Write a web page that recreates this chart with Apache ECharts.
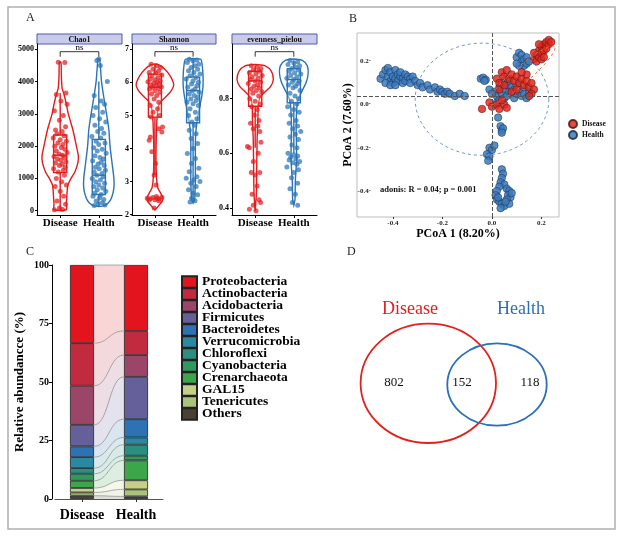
<!DOCTYPE html>
<html><head><meta charset="utf-8">
<script src="https://cdn.jsdelivr.net/npm/echarts@6/dist/echarts.min.js"></script>
<style>html,body{margin:0;padding:0;background:#fff}#c{width:625px;height:537px}</style>
</head><body><div id="c"></div>
<script>
// ---------------- DATA ----------------
const groups = ['Disease', 'Health'];
const alphaMetrics = ['Chao1', 'Shannon', 'evenness_pielou'];

// violin outlines: [value, half width in x units]
const chaoDiseaseViolin = [[4600,0.02],[4200,0.03],[3800,0.05],[3600,0.1],[3300,0.16],[3000,0.21],[2500,0.33],[2000,0.42],[1700,0.47],[1500,0.46],[1200,0.38],[1000,0.28],[800,0.2],[600,0.18],[400,0.17],[200,0.16],[30,0.16]];
const chaoHealthViolin = [[4700,0.02],[4300,0.05],[4000,0.07],[3500,0.13],[3000,0.2],[2500,0.26],[2000,0.29],[1500,0.34],[1000,0.39],[700,0.39],[400,0.33],[250,0.25],[150,0.12],[130,0]];
const shanDiseaseViolin = [[6.56,0],[6.52,0.12],[6.4,0.26],[6.2,0.4],[6.0,0.48],[5.9,0.49],[5.75,0.43],[5.6,0.32],[5.45,0.18],[5.3,0.1],[5.0,0.06],[4.5,0.04],[4.0,0.03],[3.5,0.03],[3.0,0.05],[2.8,0.08],[2.65,0.15],[2.5,0.21],[2.4,0.19],[2.3,0.12],[2.2,0.05],[2.15,0]];
const shanHealthViolin = [[6.72,0],[6.7,0.2],[6.5,0.24],[6.2,0.26],[5.9,0.26],[5.6,0.23],[5.3,0.18],[5.0,0.13],[4.6,0.08],[4.2,0.06],[3.8,0.06],[3.3,0.06],[3.0,0.06],[2.7,0.05],[2.45,0.04],[2.35,0]];
const evenDiseaseViolin = [[0.925,0],[0.92,0.26],[0.9,0.42],[0.87,0.47],[0.845,0.4],[0.825,0.26],[0.805,0.13],[0.78,0.08],[0.72,0.07],[0.65,0.05],[0.55,0.04],[0.45,0.03],[0.39,0]];
const evenHealthViolin = [[0.945,0],[0.94,0.22],[0.92,0.35],[0.89,0.37],[0.86,0.32],[0.83,0.22],[0.8,0.12],[0.77,0.08],[0.7,0.06],[0.62,0.07],[0.57,0.07],[0.5,0.04],[0.43,0.03],[0.41,0]];

// box stats: [min, Q1, median, Q3, max]
const chaoDiseaseBox = [30, 1180, 1720, 2345, 3650];
const chaoHealthBox = [150, 500, 1100, 2210, 4000];
const shanDiseaseBox = [3.2, 4.95, 5.85, 6.25, 6.56];
const shanHealthBox = [2.4, 4.78, 5.75, 6.16, 6.7];
const evenDiseaseBox = [0.62, 0.772, 0.865, 0.9, 0.92];
const evenHealthBox = [0.6, 0.785, 0.87, 0.91, 0.94];

// jittered samples: [jitter, value]
const chaoDiseasePts = [[-0.05,4600],[0.12,4590],[0.15,3650],[-0.1,3600],[0.02,3400],[0.18,3300],[-0.15,3100],[0.08,2950],[-0.02,2800],[0.14,2600],[-0.12,2500],[0.05,2450],[-0.08,2380],[0.1,2320],[-0.18,2250],[0.0,2200],[0.16,2150],[-0.06,2100],[0.07,2050],[-0.14,2000],[0.03,1960],[0.12,1900],[-0.1,1850],[0.18,1800],[-0.03,1760],[0.06,1720],[-0.16,1680],[0.1,1650],[-0.07,1600],[0.02,1560],[0.15,1520],[-0.12,1480],[0.05,1440],[-0.02,1400],[0.13,1350],[-0.17,1300],[0.08,1250],[-0.05,1200],[0.11,1100],[-0.1,1000],[0.04,900],[0.16,800],[-0.13,750],[0.0,600],[0.09,450],[-0.08,300],[0.14,200],[-0.02,80],[0.06,40],[-0.15,30]];
const chaoHealthPts = [[0.0,4700],[-0.05,4650],[0.04,4500],[0.22,4000],[-0.12,3570],[0.06,3400],[0.15,3300],[-0.08,3200],[0.1,3050],[-0.15,2950],[0.02,2850],[0.18,2750],[-0.1,2650],[0.07,2550],[-0.03,2450],[0.13,2400],[-0.18,2300],[0.05,2250],[-0.07,2150],[0.16,2100],[0.0,2050],[-0.13,1950],[0.09,1900],[-0.04,1850],[0.19,1780],[-0.1,1700],[0.03,1650],[0.12,1600],[-0.16,1550],[0.06,1500],[-0.02,1450],[0.14,1400],[-0.09,1350],[0.01,1300],[0.17,1250],[-0.12,1200],[0.08,1150],[-0.05,1100],[0.11,1050],[-0.17,1000],[0.04,950],[-0.08,900],[0.15,850],[0.0,800],[-0.13,750],[0.1,700],[-0.04,650],[0.18,600],[-0.1,550],[0.06,500],[-0.15,450],[0.02,400],[0.13,350],[-0.07,300],[0.09,250],[-0.02,200],[0.16,180],[-0.12,160]];
const shanDiseasePts = [[-0.1,6.55],[0.05,6.5],[0.15,6.45],[-0.05,6.4],[0.1,6.35],[-0.15,6.3],[0.02,6.28],[0.18,6.22],[-0.08,6.2],[0.08,6.15],[-0.12,6.1],[0.0,6.08],[0.14,6.05],[-0.18,6.02],[0.06,6.0],[-0.03,5.97],[0.11,5.95],[-0.1,5.92],[0.03,5.9],[0.17,5.87],[-0.06,5.85],[0.09,5.82],[-0.14,5.8],[0.0,5.75],[0.13,5.7],[-0.09,5.65],[0.05,5.6],[-0.02,5.5],[0.1,5.4],[-0.12,5.3],[0.07,5.2],[-0.05,5.1],[0.12,5.0],[-0.1,4.95],[0.2,4.65],[0.18,4.5],[-0.12,4.35],[-0.15,4.25],[0.1,4.6],[-0.08,3.9],[0.02,3.55],[-0.02,3.2],[0.03,2.9],[-0.2,2.5],[-0.12,2.48],[-0.05,2.52],[0.0,2.45],[0.06,2.5],[0.12,2.47],[0.18,2.53],[0.1,2.42],[-0.15,2.44],[0.04,2.55],[-0.02,2.2]];
const shanHealthPts = [[-0.1,6.7],[0.1,6.68],[0.0,6.65],[-0.15,6.6],[0.15,6.55],[0.05,6.5],[-0.05,6.45],[0.12,6.4],[-0.12,6.35],[0.02,6.3],[0.18,6.25],[-0.08,6.2],[0.08,6.15],[-0.18,6.1],[0.0,6.05],[0.14,6.0],[-0.04,5.95],[0.1,5.9],[-0.14,5.85],[0.05,5.8],[-0.02,5.75],[0.16,5.7],[-0.1,5.65],[0.03,5.6],[0.12,5.55],[-0.06,5.5],[0.08,5.45],[-0.16,5.4],[0.0,5.35],[0.14,5.3],[-0.08,5.2],[0.06,5.1],[-0.12,5.0],[0.1,4.9],[-0.03,4.8],[0.04,4.7],[-0.1,4.55],[0.08,4.45],[-0.05,4.3],[0.12,4.15],[0.0,4.0],[-0.15,3.85],[0.06,3.7],[-0.04,3.55],[0.15,3.4],[-0.1,3.3],[0.1,3.15],[-0.18,3.1],[0.02,3.05],[0.18,3.0],[-0.06,2.95],[0.08,2.85],[-0.12,2.75],[0.0,2.65],[0.12,2.6],[-0.04,2.5],[0.05,2.42],[-0.08,2.38]];
const evenDiseasePts = [[-0.1,0.92],[0.05,0.915],[0.15,0.91],[-0.05,0.905],[0.1,0.9],[-0.15,0.895],[0.02,0.89],[0.18,0.885],[-0.08,0.88],[0.08,0.875],[-0.12,0.87],[0.0,0.865],[0.14,0.86],[-0.18,0.855],[0.06,0.85],[-0.03,0.845],[0.11,0.84],[-0.1,0.835],[0.03,0.83],[0.17,0.825],[-0.06,0.82],[0.09,0.81],[-0.14,0.8],[0.0,0.79],[0.13,0.78],[-0.09,0.77],[0.05,0.76],[-0.02,0.74],[0.1,0.72],[-0.12,0.71],[0.07,0.70],[-0.05,0.69],[0.12,0.68],[0.15,0.64],[-0.2,0.625],[-0.15,0.62],[0.08,0.6],[-0.05,0.57],[0.0,0.52],[-0.1,0.53],[0.12,0.53],[0.05,0.48],[-0.08,0.45],[0.1,0.43],[0.14,0.42],[-0.05,0.41],[-0.15,0.395],[0.02,0.39]];
const evenHealthPts = [[-0.1,0.94],[0.1,0.935],[0.0,0.93],[-0.15,0.925],[0.15,0.92],[0.05,0.915],[-0.05,0.91],[0.12,0.905],[-0.12,0.9],[0.02,0.895],[0.18,0.89],[-0.08,0.885],[0.08,0.88],[-0.18,0.875],[0.0,0.87],[0.14,0.865],[-0.04,0.86],[0.1,0.855],[-0.14,0.85],[0.05,0.845],[-0.02,0.84],[0.16,0.83],[-0.1,0.82],[0.03,0.81],[0.12,0.8],[-0.06,0.79],[0.08,0.78],[-0.16,0.77],[0.0,0.76],[0.14,0.75],[-0.08,0.74],[0.06,0.72],[-0.12,0.71],[0.1,0.7],[-0.03,0.69],[0.18,0.68],[0.04,0.67],[-0.1,0.66],[0.12,0.65],[-0.05,0.63],[0.08,0.62],[-0.15,0.6],[0.0,0.595],[0.1,0.59],[-0.08,0.585],[0.05,0.58],[-0.12,0.575],[0.15,0.57],[-0.02,0.565],[0.08,0.56],[-0.18,0.55],[0.12,0.54],[0.0,0.53],[-0.06,0.51],[0.1,0.49],[-0.1,0.47],[0.04,0.45],[-0.04,0.42],[0.1,0.41]];

// Panel B: PCoA coordinates [PC1, PC2]
const pcoaHealth = [[-0.45,0.12],[-0.44,0.14],[-0.43,0.16],[-0.42,0.17],[-0.42,0.13],[-0.41,0.11],[-0.41,0.15],[-0.40,0.13],[-0.40,0.10],[-0.39,0.16],[-0.39,0.12],[-0.38,0.14],[-0.38,0.11],[-0.37,0.13],[-0.37,0.15],[-0.36,0.12],[-0.36,0.10],[-0.35,0.14],[-0.35,0.11],[-0.34,0.13],[-0.33,0.12],[-0.33,0.10],[-0.32,0.13],[-0.31,0.11],[-0.30,0.09],[-0.43,0.10],[-0.41,0.09],[-0.39,0.09],
 [-0.29,0.10],[-0.28,0.08],[-0.26,0.09],[-0.25,0.07],[-0.23,0.08],[-0.22,0.06],[-0.21,0.07],[-0.20,0.06],[-0.19,0.05],[-0.18,0.06],[-0.17,0.05],[-0.15,0.04],[-0.13,0.05],[-0.11,0.04],
 [-0.045,0.12],[-0.035,0.125],[-0.025,0.115],[-0.03,0.11],
 [0.10,0.22],[0.11,0.24],[0.12,0.20],[0.12,0.23],[0.13,0.21],[0.13,0.18],[0.14,0.22],[0.14,0.19],[0.15,0.20],[0.11,0.18],[0.10,0.19],
 [0.01,0.06],[0.02,0.04],[0.03,0.08],[0.04,0.05],[0.04,0.10],[0.05,0.03],[0.05,0.07],[0.06,0.09],[0.06,0.04],[0.07,0.06],[0.07,0.11],[0.08,0.05],[0.08,0.08],[0.09,0.03],[0.09,0.07],[0.10,0.05],[0.10,0.09],[0.11,0.06],[0.12,0.04],[0.13,0.05],[0.14,0.03],[0.06,0.12],[0.02,0.01],[0.03,0.02],[-0.01,0.07],[0.0,0.05],[0.15,0.06],[0.13,0.08],
 [0.025,-0.06],[0.035,-0.10],[0.04,-0.12],[0.045,-0.11],[0.04,-0.13],
 [-0.01,-0.20],[0.0,-0.21],[-0.02,-0.23],[-0.01,-0.24],[-0.015,-0.26],[0.01,-0.19],
 [0.04,-0.30],[0.045,-0.32],[0.04,-0.34],[0.035,-0.36],[0.05,-0.37],[0.03,-0.38],[0.06,-0.39],[0.02,-0.40],[0.07,-0.40],[0.015,-0.42],[0.065,-0.42],[0.02,-0.44],[0.075,-0.43],[0.03,-0.45],[0.06,-0.44],[0.04,-0.46],[0.05,-0.47],[0.07,-0.46],[0.035,-0.48],[0.055,-0.45],[0.025,-0.43],[0.08,-0.41]];
const pcoaDisease = [[0.17,0.21],[0.18,0.23],[0.18,0.20],[0.19,0.25],[0.19,0.22],[0.20,0.27],[0.20,0.24],[0.21,0.28],[0.21,0.25],[0.22,0.29],[0.22,0.26],[0.23,0.28],[0.23,0.30],[0.24,0.29],[0.20,0.21],[0.21,0.22],[0.19,0.28],[0.17,0.24],
 [0.02,0.12],[0.03,0.10],[0.04,0.15],[0.05,0.13],[0.06,0.16],[0.07,0.12],[0.08,0.14],[0.09,0.11],[0.10,0.13],[0.11,0.10],[0.12,0.12],[0.13,0.09],[0.14,0.11],[0.15,0.08],[0.16,0.10],[0.17,0.07],[0.14,0.14],[0.12,0.15],[0.03,0.07],[0.05,0.09],[0.08,0.06],[0.10,0.07],[0.16,0.05],[0.15,0.04],
 [-0.01,0.01],[0.0,-0.01],[0.02,0.0],[0.03,-0.02],[0.05,0.0],[0.06,-0.015],[0.04,0.02],[-0.04,-0.02]];
const pcoaAxisNames = ['PCoA 1 (8.20%)', 'PCoA 2 (7.60%)'];
const adonisText = 'adonis: R = 0.04; p = 0.001';
const pcoaRefLines = { pc1: 0, pc2: 0.043 };
// confidence ellipses {cx, cy, a, b, angle(deg)}
const ellipseHealth = { cx: -0.04, cy: 0.025, a: 0.27, b: 0.26, angle: 0 };
const ellipseDisease = { cx: 0.118, cy: 0.135, a: 0.19, b: 0.036, angle: 45 };

// Panel C
const phyla = ['Proteobacteria','Actinobacteria','Acidobacteria','Firmicutes','Bacteroidetes','Verrucomicrobia','Chloroflexi','Cyanobacteria','Crenarchaeota','GAL15','Tenericutes','Others'];
const phylaColors = ['#e3141e','#c12a3f','#9b4569','#65609a','#2e72b6','#2a88a2','#2a8f80','#2e9a5e','#3ca64a','#c3d086','#a9c37a','#4a4034'];
const diseaseAbund = [33.4,18.2,16.7,9.2,4.6,4.7,2.4,3.0,3.1,1.9,1.4,1.4];
const healthAbund = [28.2,10.3,9.3,18.1,7.8,3.1,4.7,2.0,8.5,3.9,3.0,1.1];

// Panel D
const vennCounts = { diseaseOnly: 802, shared: 152, healthOnly: 118 };

// ---------------- RENDER ----------------
const SERIF = '"Liberation Serif","Times New Roman",serif';
const RED = '#e41a1c', BLUE = '#2a74b6';

function violinSeries(gi, center, profile, color) {
  return { type: 'custom', xAxisIndex: gi, yAxisIndex: gi, z: 2, silent: true,
    data: [[center, profile[0][0]]],
    renderItem: (params, api) => {
      const left = profile.map(p => api.coord([center - p[1], p[0]]));
      const right = profile.slice().reverse().map(p => api.coord([center + p[1], p[0]]));
      return { type: 'polygon', shape: { points: left.concat(right), smooth: 0.25 },
        style: { fill: 'none', stroke: color, lineWidth: 1.4 } };
    } };
}
function boxSeries(gi, center, st, color) {
  return { type: 'custom', xAxisIndex: gi, yAxisIndex: gi, z: 3, silent: true,
    data: [[center].concat(st)],
    renderItem: (params, api) => {
      const hw = 0.17;
      const [mn, q1, md, q3, mx] = st;
      const a = api.coord([center - hw, q3]), b = api.coord([center + hw, q1]);
      const c = api.coord([center, mx]), d = api.coord([center, q3]);
      const e = api.coord([center, q1]), f = api.coord([center, mn]);
      const m1 = api.coord([center - hw, md]), m2 = api.coord([center + hw, md]);
      const ls = { stroke: color, lineWidth: 1.4 };
      return { type: 'group', children: [
        { type: 'rect', shape: { x: a[0], y: a[1], width: b[0] - a[0], height: b[1] - a[1] }, style: { fill: 'rgba(255,255,255,0.35)', stroke: color, lineWidth: 1.4 } },
        { type: 'line', shape: { x1: c[0], y1: c[1], x2: d[0], y2: d[1] }, style: ls },
        { type: 'line', shape: { x1: e[0], y1: e[1], x2: f[0], y2: f[1] }, style: ls },
        { type: 'line', shape: { x1: m1[0], y1: m1[1], x2: m2[0], y2: m2[1] }, style: ls }
      ] };
    } };
}
function ptsSeries(gi, center, pts, color) {
  return { type: 'scatter', xAxisIndex: gi, yAxisIndex: gi, z: 4, silent: true, symbolSize: 5,
    data: pts.map(p => [center + p[0], p[1]]), itemStyle: { color: color, opacity: 0.72 } };
}
function nsSeries(gi) {
  return { type: 'custom', xAxisIndex: gi, yAxisIndex: gi, silent: true, z: 5, data: [[1]],
    renderItem: (params, api) => {
      const cs = params.coordSys;
      const x1 = api.coord([1, 1])[0], x2 = api.coord([2, 1])[0];
      const yb = cs.y + 7.7, yt = cs.y + 12.7;
      return { type: 'group', children: [
        { type: 'polyline', shape: { points: [[x1, yt], [x1, yb], [x2, yb], [x2, yt]] }, style: { stroke: '#000', lineWidth: 0.8, fill: 'none' } },
        { type: 'text', style: { text: 'ns', x: (x1 + x2) / 2, y: yb, align: 'center', verticalAlign: 'bottom', font: '9px ' + SERIF, fill: '#000' } }
      ] };
    } };
}
function ellipseSeries(el, color) {
  return { type: 'custom', xAxisIndex: 3, yAxisIndex: 3, silent: true, z: 6, data: [[el.cx, el.cy]],
    renderItem: (params, api) => {
      const th = el.angle * Math.PI / 180, pts = [];
      for (let i = 0; i <= 90; i++) {
        const t = i / 90 * Math.PI * 2;
        const x = el.cx + el.a * Math.cos(t) * Math.cos(th) - el.b * Math.sin(t) * Math.sin(th);
        const y = el.cy + el.a * Math.cos(t) * Math.sin(th) + el.b * Math.sin(t) * Math.cos(th);
        pts.push(api.coord([x, y]));
      }
      return { type: 'polyline', shape: { points: pts }, style: { stroke: color, lineWidth: 1, lineDash: [3, 3], fill: 'none' } };
    } };
}

const aGrids = [
  { left: 37, top: 44, width: 85, height: 171 },
  { left: 132, top: 44, width: 84, height: 171 },
  { left: 232, top: 44, width: 85, height: 171 }
];
const aRanges = [[-133, 5164, [0,1000,2000,3000,4000,5000], v => String(v)],
                 [1.99, 7.16, [2,3,4,5,6,7], v => String(v)],
                 [0.374, 1.0, [0.4,0.6,0.8], v => v.toFixed(1)]];

const grids = aGrids.concat([
  { left: 357, top: 33, width: 202, height: 184, show: true, borderColor: '#bdbdbd', borderWidth: 1 },
  { left: 55, top: 265, width: 108, height: 234 }
]);

const xAxes = aGrids.map((g, i) => ({
  gridIndex: i, type: 'value', min: 0.4, max: 2.6,
  axisLine: { show: true, onZero: false, lineStyle: { color: '#000', width: 1 } },
  axisTick: { show: true, customValues: [1, 2], length: 3, lineStyle: { color: '#000' } },
  axisLabel: { customValues: [1, 2], formatter: v => groups[Math.round(v) - 1], fontFamily: SERIF, fontWeight: 'bold', fontSize: 11, color: '#000', margin: 3 },
  splitLine: { show: false }
}));
xAxes.push({
  gridIndex: 3, type: 'value', min: -0.545, max: 0.271,
  axisLine: { show: false, onZero: false },
  axisTick: { show: true, customValues: [-0.4, -0.2, 0, 0.2], length: 2, lineStyle: { color: '#333' } },
  axisLabel: { customValues: [-0.4, -0.2, 0, 0.2], formatter: v => v.toFixed(1), fontFamily: SERIF, fontWeight: 'bold', fontSize: 7, color: '#222', margin: 3 },
  splitLine: { show: false },
  name: pcoaAxisNames[0], nameLocation: 'middle', nameGap: 11,
  nameTextStyle: { fontFamily: SERIF, fontWeight: 'bold', fontSize: 12, color: '#000' }
});
xAxes.push({
  gridIndex: 4, type: 'category', data: groups,
  axisLine: { show: true, lineStyle: { color: '#555', width: 1 } },
  axisTick: { show: true, alignWithLabel: true, length: 3, lineStyle: { color: '#333' } },
  axisLabel: { interval: 0, fontFamily: SERIF, fontWeight: 'bold', fontSize: 14, color: '#000', margin: 9 }
});

const yAxes = aGrids.map((g, i) => ({
  gridIndex: i, type: 'value', min: aRanges[i][0], max: aRanges[i][1],
  axisLine: { show: true, onZero: false, lineStyle: { color: '#000', width: 1 } },
  axisTick: { show: true, customValues: aRanges[i][2], length: 2, lineStyle: { color: '#000' } },
  axisLabel: { customValues: aRanges[i][2], formatter: aRanges[i][3], fontFamily: SERIF, fontWeight: 'bold', fontSize: 8, color: '#000', margin: 3 },
  splitLine: { show: false }
}));
yAxes.push({
  gridIndex: 3, type: 'value', min: -0.521, max: 0.332,
  axisLine: { show: false, onZero: false },
  axisTick: { show: false },
  axisLabel: { customValues: [-0.4, -0.2, 0, 0.2], formatter: v => v.toFixed(1) + '\u00b7', inside: true, align: 'right', margin: 14, fontFamily: SERIF, fontWeight: 'bold', fontSize: 7, color: '#222' },
  splitLine: { show: false },
  name: pcoaAxisNames[1], nameLocation: 'middle', nameGap: 3,
  nameTextStyle: { fontFamily: SERIF, fontWeight: 'bold', fontSize: 12, color: '#000' }
});
yAxes.push({
  gridIndex: 4, type: 'value', min: 0, max: 100, interval: 25, offset: 3,
  axisLine: { show: true, lineStyle: { color: '#000', width: 1 } },
  axisTick: { show: true, length: 3, lineStyle: { color: '#000' } },
  axisLabel: { fontFamily: SERIF, fontWeight: 'bold', fontSize: 10, color: '#000', margin: 3 },
  splitLine: { show: false },
  name: 'Relative abundancce (%)', nameLocation: 'middle', nameGap: 26,
  nameTextStyle: { fontFamily: SERIF, fontWeight: 'bold', fontSize: 13, color: '#000' }
});

const series = [];
const aSets = [
  [chaoDiseaseViolin, chaoHealthViolin, chaoDiseaseBox, chaoHealthBox, chaoDiseasePts, chaoHealthPts],
  [shanDiseaseViolin, shanHealthViolin, shanDiseaseBox, shanHealthBox, shanDiseasePts, shanHealthPts],
  [evenDiseaseViolin, evenHealthViolin, evenDiseaseBox, evenHealthBox, evenDiseasePts, evenHealthPts]
];
// PCoA first so legend picks these by name
series.push(ellipseSeries(ellipseHealth, '#6f93d3'));
series.push(ellipseSeries(ellipseDisease, '#ec6a45'));
series.push({ type: 'scatter', name: 'Health', xAxisIndex: 3, yAxisIndex: 3, z: 3, silent: true, symbolSize: 7.5,
  data: pcoaHealth, itemStyle: { color: '#3b7bbf', borderColor: '#1c2f48', borderWidth: 0.6, opacity: 0.85 },
  markLine: { silent: true, symbol: 'none', label: { show: false }, lineStyle: { type: 'dashed', color: '#555', width: 1 },
    data: [{ xAxis: pcoaRefLines.pc1 }, { yAxis: pcoaRefLines.pc2 }] } });
series.push({ type: 'scatter', name: 'Disease', xAxisIndex: 3, yAxisIndex: 3, z: 4, silent: true, symbolSize: 7.5,
  data: pcoaDisease, itemStyle: { color: '#e3281e', borderColor: '#4a1a14', borderWidth: 0.6, opacity: 0.85 } });

aSets.forEach((s, gi) => {
  series.push(violinSeries(gi, 1, s[0], RED));
  series.push(violinSeries(gi, 2, s[1], BLUE));
  series.push(boxSeries(gi, 1, s[2], RED));
  series.push(boxSeries(gi, 2, s[3], BLUE));
  series.push(ptsSeries(gi, 1, s[4], RED));
  series.push(ptsSeries(gi, 2, s[5], BLUE));
  series.push(nsSeries(gi));
});

// Panel C: stacked bars (bottom = Others)
const n = phyla.length;
const cumD = [], cumH = [];
for (let k = 0; k < n; k++) {
  let d = 0, h = 0;
  for (let j = k + 1; j < n; j++) { d += diseaseAbund[j]; h += healthAbund[j]; }
  cumD.push(d); cumH.push(h);
}
for (let k = n - 1; k >= 0; k--) {
  series.push({ type: 'bar', name: phyla[k], stack: 'abund', xAxisIndex: 4, yAxisIndex: 4, barWidth: 24, silent: true, z: 3,
    data: [diseaseAbund[k], healthAbund[k]],
    itemStyle: { color: phylaColors[k], borderColor: '#222', borderWidth: 0.8 } });
}
series.push({ type: 'custom', name: 'flows', xAxisIndex: 4, yAxisIndex: 4, silent: true, z: 2,
  data: phyla.map((p, k) => [k]),
  renderItem: (params, api) => {
    const k = params.dataIndex;
    const xs = api.coord([0, 0])[0] + 12, xe = api.coord([1, 0])[0] - 12, xm = (xs + xe) / 2;
    const curve = (vd, vh) => {
      const y0 = api.coord([0, vd])[1], y1 = api.coord([1, vh])[1], pts = [];
      for (let i = 0; i <= 24; i++) {
        const t = i / 24, u = 1 - t;
        const x = u*u*u*xs + 3*u*u*t*xm + 3*u*t*t*xm + t*t*t*xe;
        const y = u*u*u*y0 + 3*u*u*t*y0 + 3*u*t*t*y1 + t*t*t*y1;
        pts.push([x, y]);
      }
      return pts;
    };
    const top = curve(cumD[k] + diseaseAbund[k], cumH[k] + healthAbund[k]);
    const bot = curve(cumD[k], cumH[k]);
    return { type: 'group', children: [
      { type: 'polygon', shape: { points: top.concat(bot.slice().reverse()) }, style: { fill: phylaColors[k], opacity: 0.18 } },
      { type: 'polyline', shape: { points: top }, style: { stroke: '#8a8a8a', lineWidth: 0.7, fill: 'none' } }
    ] };
  } });

// graphics
const graphic = [
  { type: 'rect', shape: { x: 8, y: 7, width: 607, height: 522 }, style: { fill: 'none', stroke: '#b0b0b0', lineWidth: 1.5 }, z: 0 },
  { type: 'text', style: { text: 'A', x: 26, y: 12, font: '12px ' + SERIF, fill: '#222' } },
  { type: 'text', style: { text: 'B', x: 349, y: 13, font: '12px ' + SERIF, fill: '#222' } },
  { type: 'text', style: { text: 'C', x: 26, y: 246, font: '12px ' + SERIF, fill: '#222' } },
  { type: 'text', style: { text: 'D', x: 347, y: 246, font: '12px ' + SERIF, fill: '#222' } },
  { type: 'text', style: { text: adonisText, x: 380, y: 190, verticalAlign: 'middle', font: 'bold 8.5px ' + SERIF, fill: '#111' } }
];
aGrids.forEach((g, i) => {
  graphic.push({ type: 'rect', shape: { x: g.left, y: 34, width: g.width, height: 10 }, style: { fill: '#c9cbe8', stroke: '#4d5cae', lineWidth: 1 } });
  graphic.push({ type: 'text', style: { text: alphaMetrics[i], x: g.left + g.width / 2, y: 39.5, align: 'center', verticalAlign: 'middle', font: 'bold 8px ' + SERIF, fill: '#111' } });
});
// Venn
graphic.push({ type: 'ellipse', shape: { cx: 428.3, cy: 383.3, rx: 67.7, ry: 59.7 }, style: { fill: 'none', stroke: '#e3201b', lineWidth: 1.8 } });
graphic.push({ type: 'ellipse', shape: { cx: 497, cy: 384.5, rx: 49.7, ry: 41.2 }, style: { fill: 'none', stroke: '#2a70b8', lineWidth: 1.8 } });
graphic.push({ type: 'text', style: { text: groups[0], x: 410, y: 309, align: 'center', verticalAlign: 'middle', font: '18px ' + SERIF, fill: '#e3201b' } });
graphic.push({ type: 'text', style: { text: groups[1], x: 521, y: 309, align: 'center', verticalAlign: 'middle', font: '18px ' + SERIF, fill: '#2a70b8' } });
graphic.push({ type: 'text', style: { text: String(vennCounts.diseaseOnly), x: 394, y: 383, align: 'center', verticalAlign: 'middle', font: '13px ' + SERIF, fill: '#111' } });
graphic.push({ type: 'text', style: { text: String(vennCounts.shared), x: 462, y: 383, align: 'center', verticalAlign: 'middle', font: '13px ' + SERIF, fill: '#111' } });
graphic.push({ type: 'text', style: { text: String(vennCounts.healthOnly), x: 530, y: 383, align: 'center', verticalAlign: 'middle', font: '13px ' + SERIF, fill: '#111' } });

const chart = echarts.init(document.getElementById('c'), null, { renderer: 'canvas' });
chart.setOption({
  animation: false,
  backgroundColor: '#fff',
  grid: grids,
  xAxis: xAxes,
  yAxis: yAxes,
  legend: [
    { data: ['Disease', 'Health'], orient: 'vertical', left: 568, top: 119, padding: 0, itemWidth: 8, itemHeight: 8, itemGap: 1, icon: 'circle',
      selectedMode: false, textStyle: { fontFamily: SERIF, fontWeight: 'bold', fontSize: 7.5, color: '#111' } },
    { data: phyla, orient: 'vertical', left: 181, top: 275, padding: 0, itemWidth: 15, itemHeight: 11.6, itemGap: -2, icon: 'rect',
      selectedMode: false, textStyle: { fontFamily: SERIF, fontWeight: 'bold', fontSize: 13.5, color: '#000', lineHeight: 11.6 } }
  ],
  series: series,
  graphic: graphic
});
</script>
</body></html>
